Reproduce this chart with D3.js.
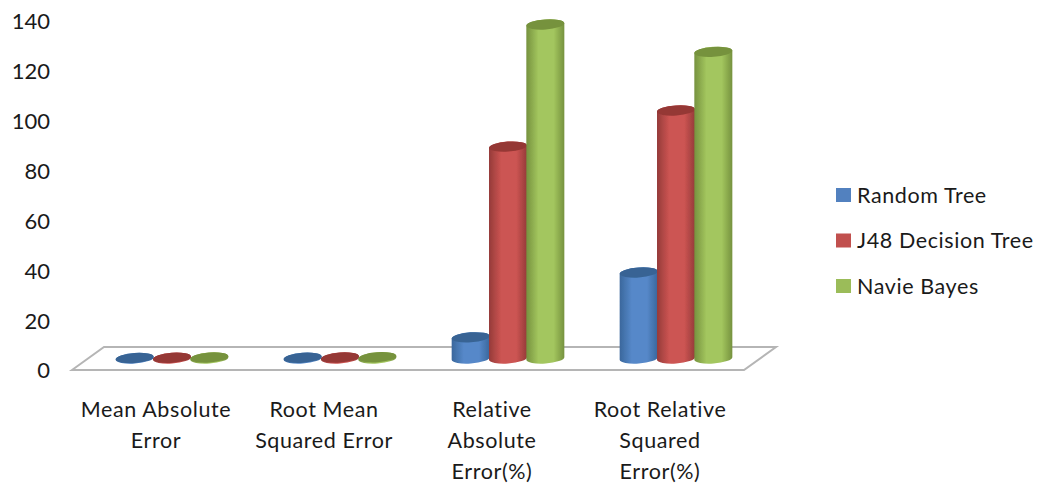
<!DOCTYPE html>
<html>
<head>
<meta charset="utf-8">
<script src="https://cdn.jsdelivr.net/npm/d3@7"></script>
<style>
  html, body { margin: 0; padding: 0; background: #fff; overflow: hidden; }
  text { font-family: Lato, "Open Sans", sans-serif; fill: #1a1a1a; }
</style>
</head>
<body>
<div id="chart"></div>
<script>
const categories = ["Mean Absolute Error", "Root Mean Squared Error", "Relative Absolute Error(%)", "Root Relative Squared Error(%)"];
const categoryLines = [
    ["Mean Absolute", "Error"],
    ["Root Mean", "Squared Error"],
    ["Relative", "Absolute", "Error(%)"],
    ["Root Relative", "Squared", "Error(%)"]
];
const seriesNames = ["Random Tree", "J48 Decision Tree", "Navie Bayes"];
const randomTree = [0.2, 0.3, 8.5, 34.5];
const j48Tree = [0.3, 0.4, 85, 99.5];
const navieBayes = [0.4, 0.5, 134, 123];
const seriesValues = [randomTree, j48Tree, navieBayes];
const yTicks = [0, 20, 40, 60, 80, 100, 120, 140];

const width = 1038, height = 484;
const depthX = 32, depthY = 23;

const side = ["#3a679c", "#953b39", "#76923f"];
const body = ["#5688c9", "#cc5452", "#a3c65e"];
const cap = ["#376494", "#953735", "#76923c"];

const svg = d3.select("#chart").append("svg")
    .attr("width", width)
    .attr("height", height)
    .style("display", "block");

// =========================
// SCALES
// =========================
const x = d3.scaleBand().domain(categories).range([72, 744]);
const xSeries = d3.scaleBand().domain(seriesNames).range([44, 156]);
const y = d3.scaleLinear().domain([0, 140]).range([370, 21]);
const legendY = d3.scalePoint().domain(seriesNames).range([195, 286]);

// =========================
// GRADIENTS
// =========================
const defs = svg.append("defs");
defs.append("filter").attr("id", "soft")
    .append("feGaussianBlur").attr("stdDeviation", 0.5);

seriesNames.forEach((name, i) => {
    const g = defs.append("linearGradient").attr("id", `cyl${i}`);
    g.append("stop").attr("offset", "0%").attr("stop-color", side[i]);
    g.append("stop").attr("offset", "32%").attr("stop-color", body[i]);
    g.append("stop").attr("offset", "72%").attr("stop-color", body[i]);
    g.append("stop").attr("offset", "100%").attr("stop-color", side[i]);
});

// =========================
// AXIS AND FLOOR
// =========================
const [floorLeft, floorRight] = x.range();
const base = y(0);

svg.append("path")
    .attr("d", `M${floorLeft},${base}L${floorLeft + depthX},${base - depthY}L${floorRight + depthX},${base - depthY}L${floorRight},${base}Z`)
    .attr("fill", "#fff")
    .attr("stroke", "#b5b5b5")
    .attr("stroke-width", 2)
    .attr("filter", "url(#soft)");

svg.append("line")
    .attr("x1", floorLeft).attr("x2", floorLeft)
    .attr("y1", y(140)).attr("y2", base)
    .attr("stroke", "#b0b0b0")
    .attr("stroke-width", 2.5)
    .attr("filter", "url(#soft)");

const yAxis = svg.append("g")
    .attr("transform", "translate(50, 0)")
    .call(d3.axisLeft(y).tickValues(yTicks).tickSize(0).tickPadding(0));
yAxis.select(".domain").remove();
yAxis.selectAll("text")
    .style("font-size", "22px")
    .attr("dy", "0.36em");

// =========================
// CYLINDERS
// =========================
const rx = 19, ry = 5, tilt = 1.3;

function cylinder(cx, top, bottom) {
    return `M${cx - rx},${top + tilt}L${cx - rx},${bottom + tilt}` +
        `A${rx},${ry} -4 0 0 ${cx + rx},${bottom - tilt}` +
        `L${cx + rx},${top - tilt}` +
        `A${rx},${ry} -4 0 0 ${cx - rx},${top + tilt}Z`;
}

const bars = svg.append("g").attr("filter", "url(#soft)");

categories.forEach((cat, c) => {
    seriesNames.forEach((name, s) => {
        const cx = x(cat) + xSeries(name) + xSeries.bandwidth() / 2;
        const v = seriesValues[s][c];
        const bottom = base - depthY / 2;
        const top = y(v) - depthY / 2;

        bars.append("path")
            .attr("d", cylinder(cx, top, bottom))
            .attr("fill", `url(#cyl${s})`);

        bars.append("ellipse")
            .attr("cx", cx)
            .attr("cy", top)
            .attr("rx", rx)
            .attr("ry", ry)
            .attr("transform", `rotate(-4 ${cx} ${top})`)
            .attr("fill", cap[s]);
    });
});

// =========================
// CATEGORY LABELS
// =========================
categories.forEach((cat, c) => {
    categoryLines[c].forEach((line, l) => {
        svg.append("text")
            .attr("x", x(cat) + x.bandwidth() / 2)
            .attr("y", 417 + l * 31)
            .attr("text-anchor", "middle")
            .style("font-size", "21.5px")
            .style("letter-spacing", "0.6px")
            .text(line);
    });
});

// =========================
// LEGEND
// =========================
const legend = svg.selectAll(".legend")
    .data(seriesNames)
    .enter()
    .append("g")
    .attr("class", "legend")
    .attr("transform", d => `translate(836, ${legendY(d)})`);

legend.append("rect")
    .attr("y", -7)
    .attr("width", 15)
    .attr("height", 14)
    .attr("fill", (d, i) => d3.color(body[i]).darker(0.15));

legend.append("text")
    .attr("x", 21)
    .attr("dy", "0.36em")
    .style("font-size", "21.5px")
    .style("letter-spacing", "0.6px")
    .text(d => d);
</script>
</body>
</html>
